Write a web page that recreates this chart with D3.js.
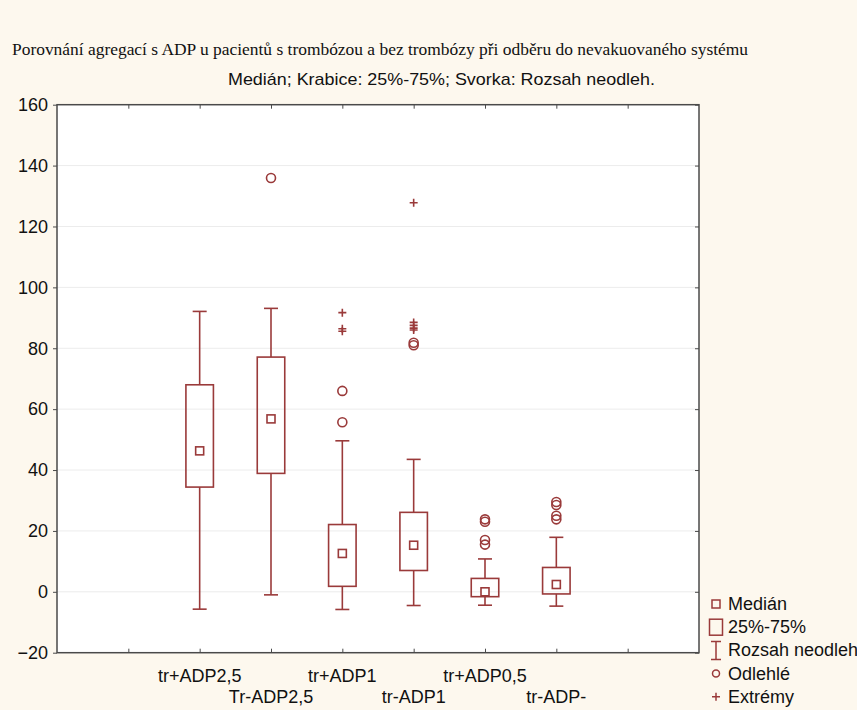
<!DOCTYPE html>
<html>
<head>
<meta charset="utf-8">
<script src="https://cdn.jsdelivr.net/npm/d3@7"></script>
<style>
  html, body { margin: 0; padding: 0; background: #fdf8ee; }
  svg { display: block; }
</style>
</head>
<body>
<svg id="chart" width="857" height="710"></svg>
<script>
// Box-plot summary per group
const categories  = ["tr+ADP2,5", "Tr-ADP2,5", "tr+ADP1", "tr-ADP1", "tr+ADP0,5", "tr-ADP-"];
const whiskerLow  = [-5.7, -1.0, -5.8, -4.5, -4.4, -4.7];
const q1          = [34.4, 38.9, 1.8, 7.0, -1.6, -0.7];
const medians     = [46.3, 56.8, 12.6, 15.3, 0.0, 2.4];
const q3          = [68.0, 77.1, 22.1, 26.1, 4.4, 8.0];
const whiskerHigh = [92.1, 93.1, 49.6, 43.5, 10.8, 17.9];
const outliers    = [[], [135.9], [55.7, 66.0], [81.0, 81.8], [15.5, 17.0, 23.0, 23.8], [23.8, 25.0, 28.5, 29.5]];
const extremes    = [[], [], [85.6, 86.4, 91.7], [86.0, 86.6, 87.5, 88.5, 127.8], [], []];
const yTicks      = [-20, 0, 20, 40, 60, 80, 100, 120, 140, 160];

const legendItems = ["Medián", "25%-75%", "Rozsah neodleh", "Odlehlé", "Extrémy"];
const titleText    = "Porovnání agregací s ADP u pacientů s trombózou a bez trombózy při odběru do nevakuovaného systému";
const subtitleText = "Medián; Krabice: 25%-75%; Svorka: Rozsah neodleh.";

const RED = "#9a3a3a";
const svg = d3.select("#chart");

const plot = { left: 57, right: 699, top: 104.7, bottom: 652.7 };

// slots: an empty slot on each side of the six groups
const slots = ["", ...categories, " "];
const x = d3.scalePoint().domain(slots).range([plot.left, plot.right]).padding(1);
const y = d3.scaleLinear().domain([-20, 160]).range([plot.bottom, plot.top]);

// background of plot area
svg.append("rect")
  .attr("x", plot.left).attr("y", plot.top)
  .attr("width", plot.right - plot.left).attr("height", plot.bottom - plot.top)
  .attr("fill", "#ffffff");

// horizontal grid
svg.append("g")
  .selectAll("line").data(yTicks.filter(t => t > -20 && t < 160)).join("line")
  .attr("x1", plot.left).attr("x2", plot.right)
  .attr("y1", d => y(d)).attr("y2", d => y(d))
  .attr("stroke", "#ececec").attr("stroke-width", 1);

// titles
svg.append("text")
  .attr("x", 12).attr("y", 55)
  .attr("font-family", "Liberation Serif, Times New Roman, serif")
  .attr("font-size", 16)
  .attr("textLength", 736).attr("lengthAdjust", "spacingAndGlyphs")
  .attr("fill", "#111")
  .text(titleText);

svg.append("text")
  .attr("x", 228).attr("y", 85)
  .attr("font-family", "Liberation Sans, Arial, sans-serif")
  .attr("font-size", 17)
  .attr("textLength", 427).attr("lengthAdjust", "spacingAndGlyphs")
  .attr("fill", "#111")
  .text(subtitleText);

// axes
const axisColor = "#4a4a4a";
const fontSans = "Liberation Sans, Arial, sans-serif";
const yAxis = svg.append("g")
  .attr("transform", `translate(${plot.left},0)`)
  .call(d3.axisLeft(y).tickValues(yTicks).tickSize(4).tickPadding(5).tickFormat(d3.format("d")));
yAxis.select(".domain").remove();
yAxis.selectAll("line").attr("stroke", axisColor);
yAxis.selectAll("text")
  .attr("font-family", fontSans)
  .attr("font-size", 18).attr("fill", "#111");

const yAxisR = svg.append("g")
  .attr("transform", `translate(${plot.right},0)`)
  .call(d3.axisRight(y).tickValues(yTicks).tickSize(-4).tickFormat(""));
yAxisR.select(".domain").remove();
yAxisR.selectAll("line").attr("stroke", axisColor);

const xAxisB = svg.append("g")
  .attr("transform", `translate(0,${plot.bottom})`)
  .call(d3.axisTop(x).tickSize(4).tickFormat(""));
xAxisB.select(".domain").remove();
xAxisB.selectAll("line").attr("stroke", axisColor);

const xAxisT = svg.append("g")
  .attr("transform", `translate(0,${plot.top})`)
  .call(d3.axisBottom(x).tickSize(4).tickFormat(""));
xAxisT.select(".domain").remove();
xAxisT.selectAll("line").attr("stroke", axisColor);

// frame
svg.append("rect")
  .attr("x", plot.left).attr("y", plot.top)
  .attr("width", plot.right - plot.left).attr("height", plot.bottom - plot.top)
  .attr("fill", "none").attr("stroke", axisColor).attr("stroke-width", 1.5);

// category labels, staggered on two rows
svg.append("g").selectAll("text").data(categories).join("text")
  .attr("x", d => x(d))
  .attr("y", (d, i) => i % 2 === 0 ? 682 : 703)
  .attr("text-anchor", "middle")
  .attr("font-family", fontSans)
  .attr("font-size", 18).attr("fill", "#111")
  .text(d => d);

// boxes
const boxW = 27.5, capW = 14, medS = 8;
const g = svg.append("g").attr("stroke", RED).attr("fill", "none").attr("stroke-width", 1.6);

categories.forEach((c, i) => {
  const cx = x(c);
  // whisker stems
  g.append("line").attr("x1", cx).attr("x2", cx).attr("y1", y(whiskerHigh[i])).attr("y2", y(q3[i]));
  g.append("line").attr("x1", cx).attr("x2", cx).attr("y1", y(q1[i])).attr("y2", y(whiskerLow[i]));
  // caps
  g.append("line").attr("x1", cx - capW / 2).attr("x2", cx + capW / 2).attr("y1", y(whiskerHigh[i])).attr("y2", y(whiskerHigh[i]));
  g.append("line").attr("x1", cx - capW / 2).attr("x2", cx + capW / 2).attr("y1", y(whiskerLow[i])).attr("y2", y(whiskerLow[i]));
  // box
  g.append("rect").attr("x", cx - boxW / 2).attr("y", y(q3[i]))
    .attr("width", boxW).attr("height", y(q1[i]) - y(q3[i]));
  // median marker
  g.append("rect").attr("x", cx - medS / 2).attr("y", y(medians[i]) - medS / 2)
    .attr("width", medS).attr("height", medS).attr("fill", "#fff");
  // outliers
  outliers[i].forEach(v => {
    g.append("circle").attr("cx", cx).attr("cy", y(v)).attr("r", 4.5);
  });
  // extremes
  extremes[i].forEach(v => {
    g.append("path").attr("d", `M${cx - 4},${y(v)}H${cx + 4}M${cx},${y(v) - 4}V${y(v) + 4}`);
  });
});

// legend
const lg = svg.append("g");
const lx = 716, ly0 = 604, lstep = 23.2;
legendItems.forEach((t, i) => {
  const yy = ly0 + i * lstep;
  const s = lg.append("g").attr("stroke", RED).attr("fill", "none").attr("stroke-width", 1.5);
  if (i === 0) {
    s.append("rect").attr("x", lx - 4).attr("y", yy - 4).attr("width", 8).attr("height", 8);
  } else if (i === 1) {
    s.append("rect").attr("x", lx - 6.5).attr("y", yy - 8).attr("width", 13).attr("height", 16);
  } else if (i === 2) {
    s.append("path").attr("d", `M${lx - 5},${yy - 9}H${lx + 5}M${lx},${yy - 9}V${yy + 9}M${lx - 5},${yy + 9}H${lx + 5}`);
  } else if (i === 3) {
    s.append("circle").attr("cx", lx).attr("cy", yy).attr("r", 3.5);
  } else {
    s.append("path").attr("d", `M${lx - 4},${yy}H${lx + 4}M${lx},${yy - 4}V${yy + 4}`);
  }
  lg.append("text")
    .attr("x", 728).attr("y", yy + 6)
    .attr("font-family", fontSans)
    .attr("font-size", 18).attr("fill", "#111")
    .text(t);
});
</script>
</body>
</html>
